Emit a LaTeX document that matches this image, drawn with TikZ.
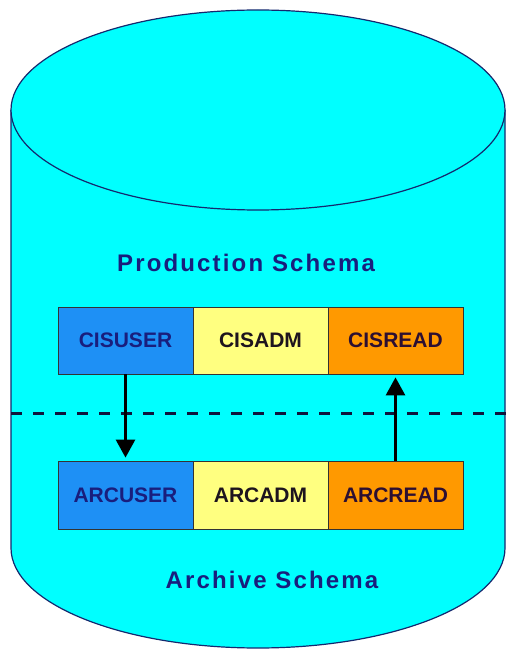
\documentclass[tikz,border=0pt]{standalone}
\usepackage{fontspec}
\setmainfont{Liberation Sans}
\usetikzlibrary{arrows.meta}
\definecolor{cyl}{RGB}{0,255,255}
\definecolor{cylline}{RGB}{20,40,110}
\definecolor{bluebox}{RGB}{30,144,245}
\definecolor{yellowbox}{RGB}{255,255,128}
\definecolor{orangebox}{RGB}{255,153,0}
\definecolor{navytext}{RGB}{25,30,125}
\definecolor{darktext}{RGB}{30,20,30}
\definecolor{orangetext}{RGB}{45,15,50}
\definecolor{dashcol}{RGB}{15,20,60}
\tikzset{
  schemabox/.style={draw=black!80, line width=0.8pt, minimum width=135pt, minimum height=67pt, inner sep=0pt, font=\fontsize{21}{24}\selectfont\bfseries},
  title/.style={text=navytext, font=\fontsize{24}{28}\selectfont\bfseries\addfontfeature{LetterSpace=9}},
  arr/.style={line width=2.8pt, black, -{Triangle[width=19pt,length=18pt]}, shorten >=3pt},
  divider/.style={line width=3pt, dash pattern=on 11pt off 11pt, dashcol}
}
\begin{document}
\begin{tikzpicture}[x=1pt,y=1pt]
\useasboundingbox (0,0) rectangle (506,649);
% cylinder body
\fill[cyl] (11,539) -- (11,101) arc[start angle=180,end angle=360,x radius=247,y radius=100] -- (505,539) -- cycle;
\draw[cylline, line width=1.2pt] (11,539) -- (11,101) arc[start angle=180,end angle=360,x radius=247,y radius=100] -- (505,539);
\draw[cylline, line width=1.2pt, fill=cyl] (258,539) ellipse[x radius=247, y radius=100];
% titles
\node[title] (prod) at (246,386) {Production Schema};
\node[title] (arch) at (272,69) {Archive Schema};
% dashed divider
\coordinate (dl) at (11,235);
\coordinate (dr) at (506,235);
\draw[divider] (dl) -- (dr);
% top row
\node[schemabox, fill=bluebox, text=navytext] (cisuser) at (125.5,308.5) {CISUSER};
\node[schemabox, fill=yellowbox, text=darktext] (cisadm) at (260.5,308.5) {CISADM};
\node[schemabox, fill=orangebox, text=orangetext] (cisread) at (395.5,308.5) {CISREAD};
% bottom row
\node[schemabox, fill=bluebox, text=navytext, minimum height=68pt] (arcuser) at (125.5,154) {ARCUSER};
\node[schemabox, fill=yellowbox, text=darktext, minimum height=68pt] (arcadm) at (260.5,154) {ARCADM};
\node[schemabox, fill=orangebox, text=orangetext, minimum height=68pt] (arcread) at (395.5,154) {ARCREAD};
% arrows
\draw[arr] (cisuser) -- (arcuser);
\draw[arr] (arcread) -- (cisread);
\end{tikzpicture}
\end{document}
